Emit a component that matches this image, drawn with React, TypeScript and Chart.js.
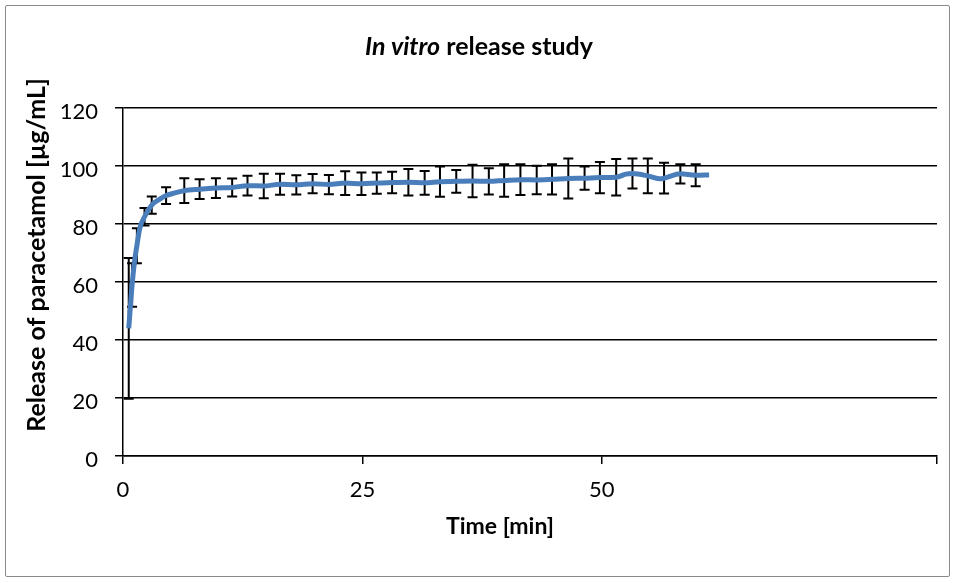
import React, { useEffect, useRef } from 'react';
import { Chart, registerables } from 'chart.js';

Chart.register(...registerables);

// ---- data ----
const timeMin = [
  0.6, 0.95, 1.2, 1.45, 1.75, 2.25, 3.0, 3.8, 4.5, 5.5, 6.4, 8.0, 9.7, 11.4, 13.0, 14.7,
  16.4, 18.1, 19.8, 21.5, 23.2, 24.9, 26.5, 28.1, 29.8, 31.5, 33.1, 34.8, 36.5, 38.2,
  39.8, 41.5, 43.2, 44.8, 46.5, 48.2, 49.8, 51.5, 52.5, 53.2, 54.8, 56.0, 56.5, 58.2,
  59.8, 61.2,
];
const releaseMean = [
  44.0, 59.0, 67.0, 72.5, 78.5, 82.5, 86.5, 88.5, 89.8, 90.8, 91.5, 92.0, 92.4, 92.6, 93.2, 93.1,
  93.7, 93.5, 93.9, 93.6, 94.1, 93.9, 94.1, 94.3, 94.4, 94.2, 94.6, 94.7, 94.8, 94.7,
  95.0, 95.3, 95.2, 95.4, 95.7, 95.8, 96.0, 96.1, 97.2, 97.4, 96.6, 95.6, 95.8, 97.3,
  96.8, 96.9,
];
const releaseSD: (number | null)[] = [
  24.3, 7.5, null, 6.0, null, 3.0, 3.0, null, 2.9, null, 4.3, 3.4, 3.4, 3.1, 3.4, 4.2,
  3.6, 3.3, 3.3, 3.3, 4.1, 3.9, 3.7, 3.7, 4.6, 4.1, 5.2, 3.9, 5.6, 4.5,
  5.6, 5.3, 4.9, 5.2, 6.9, 4.0, 5.4, 6.3, null, 5.2, 6.0, null, 5.3, 3.3,
  3.8, null,
];
const xTickValues = [0, 25, 50, 85];
const xTickLabels = ['0', '25', '50', ''];
const yMin = 0;
const yMax = 120;
const yStep = 20;
const titleItalic = 'In vitro';
const titleRest = ' release study';
const xTitle = 'Time [min]';
const yTitle = 'Release of paracetamol [µg/mL]';

const FONT = 'Lato, "Open Sans", "DejaVu Sans", sans-serif';

const errorBarPlugin = {
  id: 'errorBars',
  beforeDatasetsDraw(chart: any) {
    const { ctx, scales } = chart;
    const x = scales.x;
    const y = scales.y;
    ctx.save();
    ctx.strokeStyle = '#000';
    ctx.lineWidth = 2;
    timeMin.forEach((t, i) => {
      const sd = releaseSD[i];
      if (sd == null) return;
      const px = x.getPixelForValue(t);
      const top = y.getPixelForValue(releaseMean[i] + sd);
      const bot = y.getPixelForValue(releaseMean[i] - sd);
      ctx.beginPath();
      ctx.moveTo(px, top);
      ctx.lineTo(px, bot);
      ctx.moveTo(px - 5, top);
      ctx.lineTo(px + 5, top);
      ctx.moveTo(px - 5, bot);
      ctx.lineTo(px + 5, bot);
      ctx.stroke();
    });
    ctx.restore();
  },
};

const titlesPlugin = {
  id: 'customTitles',
  afterDraw(chart: any) {
    const { ctx } = chart;
    ctx.save();
    ctx.fillStyle = '#000';
    ctx.textBaseline = 'middle';
    // main title
    const tSize = 25;
    ctx.font = `italic bold ${tSize}px ${FONT}`;
    const w1 = ctx.measureText(titleItalic).width;
    ctx.font = `bold ${tSize}px ${FONT}`;
    const w2 = ctx.measureText(titleRest).width;
    const start = 479 - (w1 + w2) / 2;
    ctx.textAlign = 'left';
    ctx.font = `italic bold ${tSize}px ${FONT}`;
    ctx.fillText(titleItalic, start, 47);
    ctx.font = `bold ${tSize}px ${FONT}`;
    ctx.fillText(titleRest, start + w1, 47);
    // x title
    ctx.textAlign = 'center';
    ctx.font = `bold 23px ${FONT}`;
    ctx.fillText(xTitle, 500, 527);
    // y title
    ctx.font = `bold 25px ${FONT}`;
    ctx.translate(37, 255);
    ctx.rotate(-Math.PI / 2);
    ctx.fillText(yTitle, 0, 0);
    ctx.restore();
  },
};

export default function App() {
  const ref = useRef<HTMLCanvasElement | null>(null);

  useEffect(() => {
    if (!ref.current) return;
    const chart = new Chart(ref.current, {
      type: 'line',
      data: {
        datasets: [
          {
            data: timeMin.map((t, i) => ({ x: t, y: releaseMean[i] })),
            borderColor: '#4a7ebb',
            borderWidth: 5,
            pointRadius: 0,
            cubicInterpolationMode: 'monotone',
            fill: false,
          },
        ],
      },
      options: {
        animation: false,
        responsive: false,
        layout: { padding: { top: 108, right: 17, left: 0, bottom: 0 } },
        plugins: {
          legend: { display: false },
          title: { display: false },
          tooltip: { enabled: false },
        },
        scales: {
          x: {
            type: 'linear',
            min: 0,
            max: 85,
            afterBuildTicks: (scale: any) => {
              scale.ticks = xTickValues.map((v) => ({ value: v }));
            },
            afterFit: (scale: any) => {
              scale.height = 127;
            },
            ticks: {
              autoSkip: false,
              maxRotation: 0,
              padding: 13,
              color: '#000',
              font: { family: FONT, size: 22 },
              callback: (v: any) => {
                const idx = xTickValues.indexOf(Number(v));
                return idx >= 0 ? xTickLabels[idx] : '';
              },
            },
            grid: {
              drawOnChartArea: false,
              drawTicks: true,
              tickLength: 8,
              color: '#000',
              lineWidth: 1.5,
            },
            border: { display: true, color: '#000', width: 1.5 },
          },
          y: {
            min: yMin,
            max: yMax,
            afterFit: (scale: any) => {
              scale.width = 123;
            },
            ticks: {
              stepSize: yStep,
              padding: 17,
              labelOffset: 4,
              color: '#000',
              font: { family: FONT, size: 22 },
            },
            grid: {
              drawTicks: true,
              tickLength: 8,
              color: '#000',
              lineWidth: 1.5,
            },
            border: { display: true, color: '#000', width: 1.5 },
          },
        },
      },
      plugins: [errorBarPlugin, titlesPlugin],
    } as any);
    return () => chart.destroy();
  }, []);

  return (
    <div
      style={{
        position: 'absolute',
        left: 0,
        top: 0,
        width: 954,
        height: 583,
        background: '#fff',
        overflow: 'hidden',
      }}
    >
      <div
        style={{
          position: 'absolute',
          left: 5,
          top: 5,
          width: 945,
          height: 572,
          border: '1.5px solid #8a8a8a',
          borderRadius: 2,
          boxSizing: 'border-box',
        }}
      />
      <canvas
        ref={ref}
        width={954}
        height={583}
        style={{ position: 'absolute', left: 0, top: 0, display: 'block' }}
      />
    </div>
  );
}
